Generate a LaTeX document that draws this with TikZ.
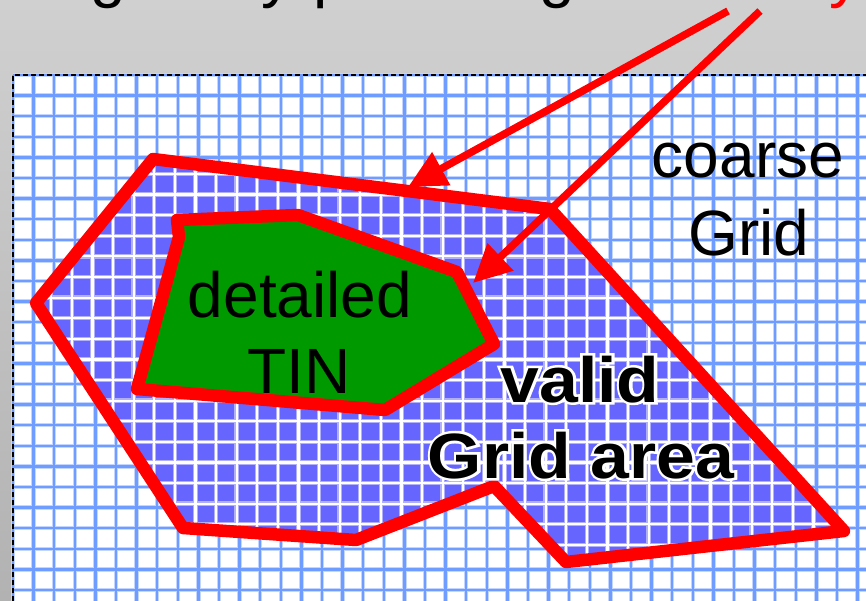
\documentclass[tikz,border=0pt]{standalone}
\usepackage{fontspec}
\setmainfont{Liberation Sans}
\usetikzlibrary{arrows.meta}
\definecolor{gridblue}{HTML}{6F9CFF}
\definecolor{gridhalo}{HTML}{C4D6FF}
\definecolor{validblue}{HTML}{6666FF}
\definecolor{innerhalo}{HTML}{B0B0FF}
\definecolor{tingreen}{HTML}{009900}
\definecolor{bgtop}{HTML}{D0D0D0}
\definecolor{bgbot}{HTML}{B2B2B2}
\newcommand{\boldline}[3]{%
  \node[boldlbl,text=white] at (#2) {\addfontfeature{FakeBold=8}\scalebox{1.09}[1]{#3}};
  \node[boldlbl] (#1) at (#2) {\scalebox{1.09}[1]{#3}};}
\begin{document}
\begin{tikzpicture}[x=1pt,y=-1pt,
  outline/.style={draw=red,line width=12.5pt,line join=round},
  pointer/.style={draw=red,line width=7.5pt,-{Triangle[length=38pt,width=36pt]}},
  lbl/.style={inner sep=0pt,anchor=base,font=\fontsize{64}{76}\selectfont},
  boldlbl/.style={lbl,font=\fontsize{64}{76}\selectfont\bfseries},
  glyph/.style={lbl,anchor=base west}]
\useasboundingbox (0,0) rectangle (866,601);
\clip (0,0) rectangle (866,601);
% background
\shade[top color=bgtop,bottom color=bgbot] (0,0) rectangle (866,601);
\fill[white] (13,75) rectangle (866,601);
% coarse grid
\foreach \k in {0,...,42}{\draw[gridhalo,line width=4.5pt] ({13+20.6*\k},75) -- ({13+20.6*\k},601);}
\foreach \k in {0,...,26}{\draw[gridhalo,line width=4.5pt] (13,{75+20.6*\k}) -- (866,{75+20.6*\k});}
\foreach \k in {0,...,42}{\draw[gridblue,line width=2.4pt] ({13+20.6*\k},75) -- ({13+20.6*\k},601);}
\foreach \k in {0,...,26}{\draw[gridblue,line width=2.4pt] (13,{75+20.6*\k}) -- (866,{75+20.6*\k});}
\draw[black,line width=2pt,dash pattern=on 5pt off 3pt] (13,601) -- (13,75) -- (866,75);
% valid grid area
\coordinate (A) at (153,159);
\coordinate (B) at (550,209);
\coordinate (C) at (844,531);
\coordinate (D) at (566,562);
\coordinate (E) at (494,486);
\coordinate (F) at (356,540);
\coordinate (G) at (183,528);
\coordinate (H) at (36,303);
\fill[validblue] (A) -- (B) -- (C) -- (D) -- (E) -- (F) -- (G) -- (H) -- cycle;
\begin{scope}
\clip (A) -- (B) -- (C) -- (D) -- (E) -- (F) -- (G) -- (H) -- cycle;
\foreach \k in {0,...,42}{\draw[innerhalo,line width=4.5pt] ({10+20.6*\k},71) -- ({10+20.6*\k},601);}
\foreach \k in {0,...,26}{\draw[innerhalo,line width=4.5pt] (10,{71+20.6*\k}) -- (866,{71+20.6*\k});}
\foreach \k in {0,...,42}{\draw[white,line width=2.2pt] ({10+20.6*\k},71) -- ({10+20.6*\k},601);}
\foreach \k in {0,...,26}{\draw[white,line width=2.2pt] (10,{71+20.6*\k}) -- (866,{71+20.6*\k});}
\end{scope}
% detailed TIN
\coordinate (T1) at (177,220);
\coordinate (T2) at (298,215);
\coordinate (T3) at (457,272);
\coordinate (T4) at (494,344);
\coordinate (T5) at (385,410);
\coordinate (T6) at (137,389);
\coordinate (T7) at (179,237);
\fill[tingreen] (T1) -- (T2) -- (T3) -- (T4) -- (T5) -- (T6) -- (T7) -- cycle;
\draw[outline] (T1) -- (T2) -- (T3) -- (T4) -- (T5) -- (T6) -- (T7) -- cycle;
\draw[outline] (A) -- (B) -- (C) -- (D) -- (E) -- (F) -- (G) -- (H) -- cycle;
% pointers
\coordinate (p1s) at (728,11);
\coordinate (p1e) at (408,187);
\coordinate (p2s) at (760,11);
\coordinate (p2e) at (473,283);
\draw[pointer] (p1s) -- (p1e);
\draw[pointer] (p2s) -- (p2e);
% cut-off title glyphs
\node[glyph] (t1) at (90,-4) {g};
\node[glyph] (t2) at (261,-4) {y};
\node[glyph] (t3) at (313,-4) {p};
\node[glyph] (t4) at (539,-4) {g};
\node[glyph,text=red] (t5) at (829,-4) {y};
% labels
\node[lbl] (coarse) at (748,178) {coarse};
\node[lbl] (grid) at (749,255) {Grid};
\node[lbl] (detailed) at (300,317) {detailed};
\node[lbl] (tin) at (299,393) {TIN};
\boldline{valid}{580,402}{valid}
\boldline{gridarea}{581,478}{Grid area}
\end{tikzpicture}
\end{document}
